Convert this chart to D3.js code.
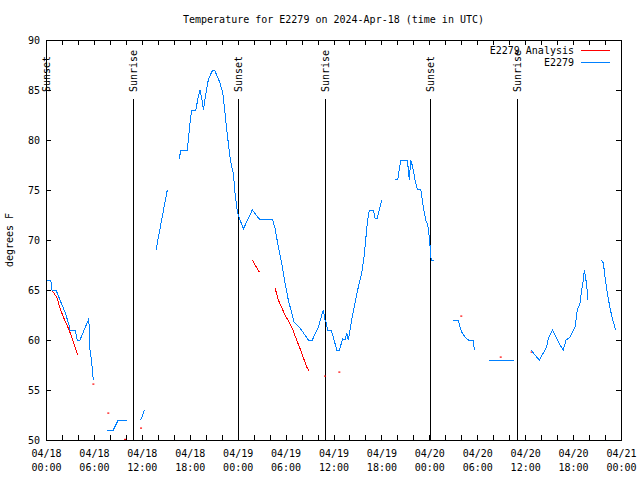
<!DOCTYPE html>
<html><head><meta charset="utf-8">
<script src="https://cdn.jsdelivr.net/npm/d3@7"></script>
<style>
body{margin:0;background:#fff;}
text{font-family:"DejaVu Sans Mono",monospace;font-size:10px;fill:#000;}
</style></head>
<body><svg id="c" width="640" height="480"></svg>
<script>
// ---- data (hours after 2024-04-18 00:00 UTC, degrees F) ----
const titleText = "Temperature for E2279 on 2024-Apr-18 (time in UTC)";
const yLabel = "degrees F";
const yTicks = [50,55,60,65,70,75,80,85,90];
const legendNames = ["E2279 Analysis","E2279"];

const obsSegments = [
  [[0.16,66],[0.6,66],[0.75,65],[1.25,65],[1.75,64],[2.38,62.8],[2.88,61.5],[3.0,61],[3.63,61],[3.92,60],[4.26,60],[5.3,62],[5.42,61.5],[5.51,59],[5.72,57.8],[5.92,56]],
  [[7.68,51],[8.43,51],[9.05,52],[10.11,52]],
  [[11.77,52],[11.98,52.2],[12.31,53]],
  [[13.77,69],[14.06,70.2],[14.6,72.5],[15.19,75]],
  [[16.69,78.1],[16.87,79],[17.69,79],[18.03,81.7],[18.24,83],[18.75,83],[19.07,84.3],[19.28,85],[19.41,84.5],[19.62,83.7],[19.7,83],[19.95,84.3],[20.32,86],[20.75,86.8],[20.95,87],[21.16,86.9],[21.79,85.7],[22.13,84.7],[22.41,82.7],[22.63,81],[22.83,79.7],[23.04,78.3],[23.25,77.3],[23.45,76.7],[23.67,74.7],[23.88,73.3],[24.0,72.7],[24.17,72.3],[24.71,71.1],[25.83,73],[26.71,72.1],[28.34,72.1],[28.68,71.2],[29.09,69.3],[29.51,67.7],[29.93,65.7],[30.34,64],[30.77,62.7],[31.06,61.8],[31.81,61.2],[32.85,60],[33.35,60],[34.1,61.3],[34.72,63],[34.94,62],[35.15,61.7],[35.22,61],[35.69,61],[35.98,60.3],[36.4,59],[36.73,59],[37.15,60.1],[37.44,60],[37.65,60.7],[37.85,60],[38.07,61],[38.28,62],[38.69,63.7],[39.11,65.3],[39.53,66.7],[39.82,68.3],[40.03,70],[40.23,71.7],[40.48,73],[40.98,73],[41.2,72.2],[41.49,72.2],[41.74,73],[42.04,74]],
  [[43.7,76.1],[44.04,76],[44.42,78],[45.24,78],[45.42,76.7],[45.49,76],[45.67,78],[45.92,77.3],[46.21,76],[46.49,75.1],[46.92,75.1],[47.25,73.3],[47.55,72],[47.8,71.5],[48.0,70.3],[48.08,69.5],[48.17,68.3],[48.3,68],[48.55,68]],
  [[51.0,62],[51.63,62],[51.84,61.3],[52.06,60.8],[52.47,60.3],[52.88,60],[53.5,60],[53.63,59]],
  [[55.51,58],[58.6,58]],
  [[60.73,59],[61.23,58.5],[61.77,58],[62.27,58.7],[62.7,59.3],[62.9,60.2],[63.4,61],[63.95,60.2],[64.36,59.5],[64.78,59],[65.11,60],[65.53,60.2],[65.95,60.8],[66.24,61.3],[66.37,62],[66.53,63],[66.87,63.7],[67.08,65],[67.28,66],[67.41,67],[67.71,65.5],[67.83,64]],
  [[69.5,68],[69.79,67.7],[70.0,66.3],[70.29,64.7],[70.62,63.2],[70.96,62],[71.34,61]]
];

const anaSegments = [
  [[0.79,64.9],[1.34,64.3],[1.75,63.2],[2.17,62.3],[2.79,61.2],[3.22,60.3],[3.63,59.3],[3.97,58.5]],
  [[25.83,68],[26.71,66.8]],
  [[28.68,65.2],[29.09,64],[29.93,62.5],[30.77,61.3],[31.39,60],[32.02,58.7],[32.64,57.3],[32.93,56.9]]
];
const anaDots = [[5.93,55.6],[7.8,52.7],[9.9,50.07],[11.9,51.2],[34.94,56.4],[36.73,56.8],[52.0,62.4],[56.94,58.3],[60.81,58.8]];

const sunHours = [0.05,10.9,24.06,34.97,48.14,59.0];
const sunLabels = ["Sunset","Sunrise","Sunset","Sunrise","Sunset","Sunrise"];

// ---- drawing ----
const L=46,R=621,T=40,B=440;
const t0 = Date.UTC(2024,3,18,0,0);
const hr = h => new Date(t0 + h*3600e3);
const svg = d3.select("#c");
const x = d3.scaleUtc().domain([hr(0),hr(72)]).range([L,R]);
const y = d3.scaleLinear().domain([50,90]).range([B,T]);

svg.append("text").attr("x",(L+R)/2).attr("y",23).attr("text-anchor","middle").text(titleText);

// axes with inward ticks
const fmt = d3.utcFormat("%m/%d"), fmt2 = d3.utcFormat("%H:%M");
const xTickVals = d3.utcHour.every(2).range(hr(0), hr(72.01));
const xb = svg.append("g").attr("transform",`translate(0,${B})`)
  .call(d3.axisBottom(x).tickValues(xTickVals).tickSize(-5).tickPadding(10).tickFormat(""));
xb.selectAll(".tick").each(function(d){
  if(d.getUTCHours()%6===0){
    const t=d3.select(this).select("text");
    t.append("tspan").attr("x",0).attr("dy","0.71em").text(fmt(d));
    t.append("tspan").attr("x",0).attr("dy","1.4em").text(fmt2(d));
  }
});
svg.append("g").attr("transform",`translate(0,${T})`)
  .call(d3.axisTop(x).tickValues(xTickVals).tickSize(-5).tickFormat(""));
svg.append("g").attr("transform",`translate(${L},0)`)
  .call(d3.axisLeft(y).tickValues(yTicks).tickSize(-5).tickPadding(6).tickFormat(d3.format("d")));
svg.append("g").attr("transform",`translate(${R},0)`)
  .call(d3.axisRight(y).tickValues(yTicks).tickSize(-5).tickFormat(""));
svg.selectAll(".domain").remove();
svg.selectAll(".tick line").attr("stroke","#000").attr("shape-rendering","crispEdges");
svg.selectAll(".tick text").style("font-family","DejaVu Sans Mono").style("font-size","10px");

svg.append("rect").attr("x",L).attr("y",T).attr("width",R-L).attr("height",B-T)
  .attr("fill","none").attr("stroke","#000").attr("shape-rendering","crispEdges");

svg.append("text").attr("transform",`translate(13,${(T+B)/2}) rotate(-90)`)
  .attr("text-anchor","middle").text(yLabel);

// sun lines
sunHours.forEach((h,i)=>{
  const xp = Math.round(x(hr(h)))+0.5;
  svg.append("line").attr("x1",xp).attr("x2",xp).attr("y1",99).attr("y2",B)
    .attr("stroke","#000").attr("stroke-width",1).attr("shape-rendering","crispEdges");
  svg.append("text").attr("transform",`translate(${xp},92) rotate(-90)`)
    .attr("dy","0.35em").attr("text-anchor","start").text(sunLabels[i]);
});

const line = d3.line().x(d=>x(hr(d[0]))).y(d=>y(d[1]));
svg.append("g").selectAll("path").data(anaSegments).join("path")
  .attr("d",line).attr("fill","none").attr("stroke","#ff0000").attr("stroke-width",1)
  .attr("shape-rendering","crispEdges");
svg.append("g").selectAll("rect").data(anaDots).join("rect")
  .attr("x",d=>x(hr(d[0]))-1).attr("y",d=>y(d[1])-0.5).attr("width",2).attr("height",1.2).attr("fill","#ff0000");
svg.append("g").selectAll("path").data(obsSegments).join("path")
  .attr("d",line).attr("fill","none").attr("stroke","#0080ff").attr("stroke-width",1)
  .attr("shape-rendering","crispEdges");

// legend
const lg = svg.append("g");
legendNames.forEach((n,i)=>{
  const yy = 50 + i*12.5;
  lg.append("text").attr("x",574).attr("y",yy).attr("dy","0.35em").attr("text-anchor","end").text(n);
  lg.append("line").attr("x1",581).attr("x2",610).attr("y1",yy).attr("y2",yy)
    .attr("stroke", i===0?"#ff0000":"#0080ff").attr("stroke-width",1).attr("shape-rendering","crispEdges");
});
</script></body></html>
